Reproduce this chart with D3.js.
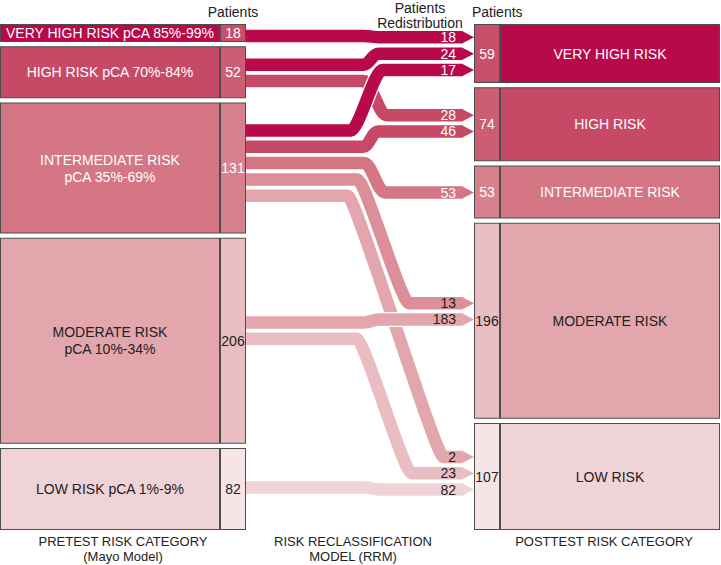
<!DOCTYPE html>
<html>
<head>
<meta charset="utf-8">
<script src="https://cdn.jsdelivr.net/npm/d3@7"></script>
<style>
  body { margin: 0; background: #fff; }
  text { font-family: "Liberation Sans", Arial, Helvetica, sans-serif; }
</style>
</head>
<body>
<div id="chart"></div>
<script>
// pretest (Mayo model) categories
const pretestLabels = [["VERY HIGH RISK pCA 85%-99%"], ["HIGH RISK pCA 70%-84%"], ["INTERMEDIATE RISK", "pCA 35%-69%"], ["MODERATE RISK", "pCA 10%-34%"], ["LOW RISK pCA 1%-9%"]];
const pretestCounts = [18, 52, 131, 206, 82];

// posttest categories
const posttestLabels = ["VERY HIGH RISK", "HIGH RISK", "INTERMEDIATE RISK", "MODERATE RISK", "LOW RISK"];
const posttestCounts = [59, 74, 53, 196, 107];

// redistribution flows (source index -> target index)
const flowSource = [0, 1, 1, 2, 2, 2, 2, 2, 3, 3, 4];
const flowTarget = [0, 0, 1, 0, 1, 2, 3, 4, 3, 4, 4];
const flowValues = [18, 24, 28, 17, 46, 53, 13, 2, 183, 23, 82];

const catColors = ['#b8094a', '#c64a66', '#d47684', '#e3a6ad', '#f0d3d7'];
const countColors = ['#c74f69', '#cc5e74', '#d7818e', '#e8bec3', '#f6e4e7'];
const darkText = '#222';

const svgWidth = 721, svgHeight = 565;
const topY = 24, bottomY = 530, gap = 4.25;
const leftX = 0, leftLabelW = 220, countW = 26;
const rightX = 474, rightLabelW = 220;
const bandW = 12.5, bandStep = 16.3, headLen = 12;

const svg = d3.select('#chart').append('svg')
    .attr('width', svgWidth)
    .attr('height', svgHeight);

const yScale = d3.scaleLinear()
    .domain([0, d3.sum(pretestCounts)])
    .range([0, bottomY - topY - gap * (pretestCounts.length - 1)]);

const flowColor = d3.scaleLinear()
    .domain(d3.range(catColors.length))
    .range(catColors);

function stackBoxes(counts) {
    let y = topY;
    return counts.map(c => {
        const b = { y0: y, y1: y + yScale(c) };
        y = b.y1 + gap;
        return b;
    });
}

const leftBoxes = stackBoxes(pretestCounts);
const rightBoxes = stackBoxes(posttestCounts);

// band anchor positions inside each box (stack sits a little above centre in tall boxes)
function anchors(boxes, keyArr) {
    const pos = new Array(flowValues.length);
    boxes.forEach((b, k) => {
        const idx = d3.range(flowValues.length).filter(i => keyArr[i] == k);
        const h = b.y1 - b.y0;
        const c = (b.y0 + b.y1) / 2 + 3 - 0.07 * (h - 18);
        idx.forEach((i, j) => {
            pos[i] = c + (j - (idx.length - 1) / 2) * bandStep;
        });
    });
    return pos;
}
const ySrc = anchors(leftBoxes, flowSource);
const yTgt = anchors(rightBoxes, flowTarget);

function colorIdx(i) {
    const s = flowSource[i], t = flowTarget[i];
    return t <= s ? t : (s + t) / 2;
}

// flows, lighter ones first so darker ones sit on top
const x0 = leftX + leftLabelW + countW;
const xHead = rightX - headLen;
const order = d3.range(flowValues.length).sort((a, b) => colorIdx(b) - colorIdx(a));

function bandPath(ys, yt) {
    const dy = yt - ys;
    const bx = 372 + 0.09 * dy;
    const d = Math.max(0.32 * Math.abs(dy), 4);
    const a = bx - d / 2 - 6, b = bx + d / 2 + 6, k = 8;
    const p = d3.path();
    p.moveTo(x0, ys);
    p.lineTo(a, ys);
    p.bezierCurveTo(a + k, ys, b - k, yt, b, yt);
    p.lineTo(xHead + 0.5, yt);
    return p.toString();
}

const flows = svg.append('g').selectAll('g')
    .data(order)
    .enter().append('g');

flows.append('path')
    .attr('d', i => bandPath(ySrc[i], yTgt[i]))
    .attr('fill', 'none')
    .attr('stroke', '#fff')
    .attr('stroke-width', bandW + 2.5);

flows.append('path')
    .attr('d', i => bandPath(ySrc[i], yTgt[i]))
    .attr('fill', 'none')
    .attr('stroke', i => flowColor(colorIdx(i)))
    .attr('stroke-width', bandW);

flows.append('polygon')
    .attr('points', i => {
        const y = yTgt[i];
        return [[xHead, y - bandW / 2], [rightX, y], [xHead, y + bandW / 2]].join(' ');
    })
    .attr('fill', i => flowColor(colorIdx(i)));

flows.append('text')
    .attr('x', xHead - 6)
    .attr('y', i => yTgt[i] + 5)
    .attr('text-anchor', 'end')
    .style('font-size', '14px')
    .attr('fill', i => colorIdx(i) < 2.5 ? '#fff' : darkText)
    .text(i => flowValues[i]);

// boxes
function drawBox(x, w, b, fill) {
    svg.append('rect')
        .attr('x', x + 0.5)
        .attr('y', b.y0 + 0.5)
        .attr('width', w - 1)
        .attr('height', b.y1 - b.y0 - 1)
        .attr('fill', fill)
        .attr('stroke', '#4d4d4d')
        .attr('stroke-width', 1);
}

function boxText(x, b, lines, color, size) {
    const cy = (b.y0 + b.y1) / 2;
    lines.forEach((line, j) => {
        svg.append('text')
            .attr('x', x)
            .attr('y', cy + 5 + (j - (lines.length - 1) / 2) * 17)
            .attr('text-anchor', 'middle')
            .style('font-size', size)
            .attr('fill', color)
            .text(line);
    });
}

leftBoxes.forEach((b, k) => {
    drawBox(leftX, leftLabelW, b, catColors[k]);
    drawBox(leftX + leftLabelW, countW, b, countColors[k]);
    const tc = k < 3 ? '#fff' : darkText;
    boxText(leftX + leftLabelW / 2, b, pretestLabels[k], tc, '14px');
    boxText(leftX + leftLabelW + countW / 2, b, [pretestCounts[k]], tc, '14px');
});

rightBoxes.forEach((b, k) => {
    drawBox(rightX, countW, b, countColors[k]);
    drawBox(rightX + countW, rightLabelW, b, catColors[k]);
    const tc = k < 3 ? '#fff' : darkText;
    boxText(rightX + countW / 2, b, [posttestCounts[k]], tc, '14px');
    boxText(rightX + countW + rightLabelW / 2, b, [posttestLabels[k]], tc, '14px');
});

// headers
function label(x, y, str, size, anchor) {
    svg.append('text')
        .attr('x', x)
        .attr('y', y)
        .attr('text-anchor', anchor || 'middle')
        .style('font-size', size)
        .attr('fill', darkText)
        .text(str);
}

label(leftX + leftLabelW + countW / 2, 16.5, 'Patients', '14px');
label(420, 12.5, 'Patients', '14px');
label(420, 27.5, 'Redistribution', '14px');
label(rightX - 2, 16.5, 'Patients', '14px', 'start');

label(123, 546, 'PRETEST RISK CATEGORY', '13px');
label(123, 561, '(Mayo Model)', '13px');
label(353, 546, 'RISK RECLASSIFICATION', '13px');
label(353, 561, 'MODEL (RRM)', '13px');
label(604, 546, 'POSTTEST RISK CATEGORY', '13px');
</script>
</body>
</html>
